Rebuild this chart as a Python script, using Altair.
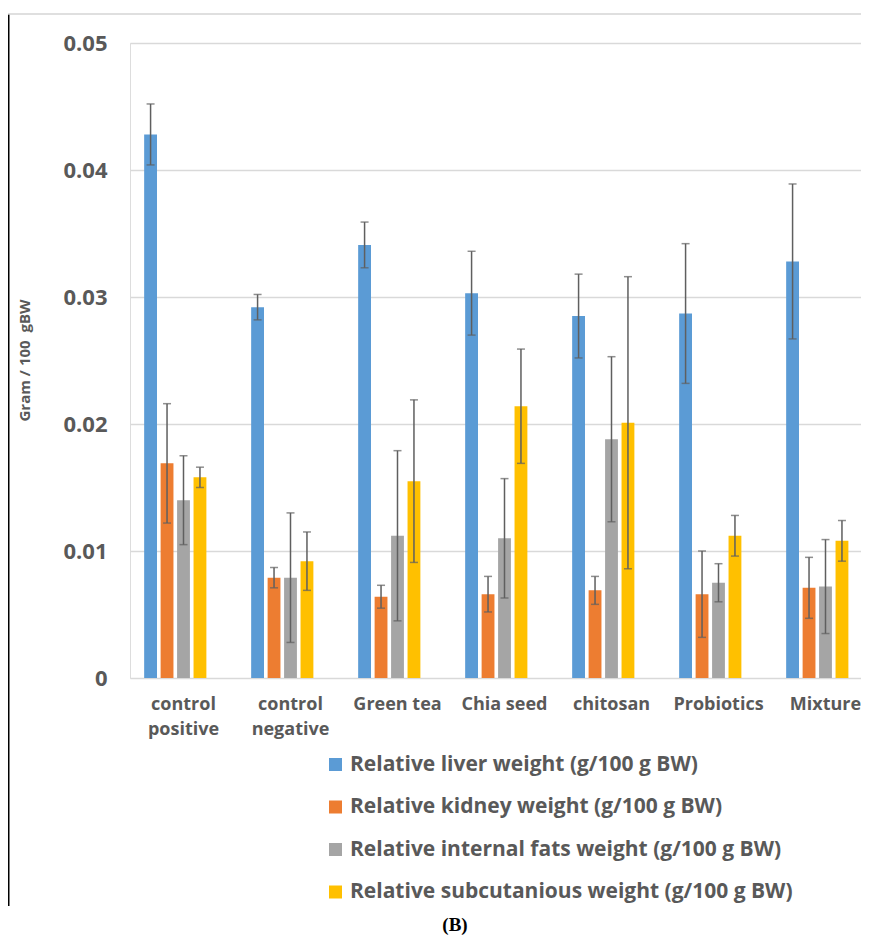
import altair as alt
import pandas as pd

categories = ["control\npositive", "control\nnegative", "Green tea", "Chia seed",
              "chitosan", "Probiotics", "Mixture"]
series = [
    "Relative liver weight (g/100 g BW)",
    "Relative kidney weight (g/100 g BW)",
    "Relative internal fats weight (g/100 g BW)",
    "Relative subcutanious weight (g/100 g BW)",
]
colors = ["#5B9BD5", "#ED7D31", "#A5A5A5", "#FFC000"]

liver = [0.0428, 0.0292, 0.0341, 0.0303, 0.0285, 0.0287, 0.0328]
liver_err = [0.0024, 0.0010, 0.0018, 0.0033, 0.0033, 0.0055, 0.0061]
kidney = [0.0169, 0.0079, 0.0064, 0.0066, 0.0069, 0.0066, 0.0071]
kidney_err = [0.0047, 0.0008, 0.0009, 0.0014, 0.0011, 0.0034, 0.0024]
fats = [0.0140, 0.0079, 0.0112, 0.0110, 0.0188, 0.0075, 0.0072]
fats_err = [0.0035, 0.0051, 0.0067, 0.0047, 0.0065, 0.0015, 0.0037]
subcut = [0.0158, 0.0092, 0.0155, 0.0214, 0.0201, 0.0112, 0.0108]
subcut_err = [0.0008, 0.0023, 0.0064, 0.0045, 0.0115, 0.0016, 0.0016]

y_ticks = [0, 0.01, 0.02, 0.03, 0.04, 0.05]

rows = []
for name, vals, errs in zip(series, [liver, kidney, fats, subcut],
                            [liver_err, kidney_err, fats_err, subcut_err]):
    for c, v, e in zip(categories, vals, errs):
        rows.append({"group": c, "series": name, "value": v, "lo": v - e, "hi": v + e})
df = pd.DataFrame(rows)

TXT = "#595959"
FONT = "Open Sans"

x_enc = alt.X(
    "group:N", sort=categories,
    scale=alt.Scale(range=[0, 749], paddingInner=0, paddingOuter=0),
    axis=alt.Axis(title=None, labelExpr="split(datum.label, '\\n')", labelAngle=0,
                  labelFont=FONT, labelFontSize=18, labelFontWeight="bold",
                  labelColor=TXT, labelPadding=17, labelLineHeight=25,
                  labelBaseline="top", labelLimit=0, labelOverlap=False,
                  ticks=False, domain=False, grid=False),
)
xoff = alt.XOffset("series:N", scale=alt.Scale(domain=series + [" "],
                                                 paddingInner=0.22, paddingOuter=0.86))
y_enc = alt.Y(
    "value:Q", scale=alt.Scale(domain=[0, 0.05], nice=False),
    axis=alt.Axis(values=y_ticks,
                  labelExpr="datum.value == 0 ? '0' : format(datum.value, '.2f')",
                  labelFont=FONT, labelFontSize=22, labelFontWeight="bold",
                  labelColor=TXT, labelPadding=23, ticks=False, domain=False,
                  gridColor="#d9d9d9", gridWidth=1.3,
                  title="Gram / 100 \u00a0gBW", titleFont=FONT, titleFontSize=15,
                  titleFontWeight="bold", titleColor=TXT, titleX=-113, titleY=317,
                  titleAlign="center", titleBaseline="top"),
)

base = alt.Chart(df)
bars = base.mark_bar().encode(
    x=x_enc, xOffset=xoff, y=y_enc,
    color=alt.Color("series:N", scale=alt.Scale(domain=series, range=colors),
                    legend=alt.Legend(title=None, orient="none", legendX=195, legendY=711,
                                      symbolType="square", symbolSize=169,
                                      symbolStrokeWidth=0, labelFont=FONT,
                                      labelFontSize=21, labelFontWeight="bold",
                                      labelColor=TXT, rowPadding=20.5, labelOffset=4,
                                      padding=0, labelLimit=0)),
)
err = base.mark_rule(color="#5f5f5f", strokeWidth=1.5).encode(
    x=x_enc, xOffset=xoff, y="lo:Q", y2="hi:Q")
cap_lo = base.mark_tick(color="#5f5f5f", thickness=1.5, size=8).encode(
    x=x_enc, xOffset=xoff, y="lo:Q")
cap_hi = base.mark_tick(color="#5f5f5f", thickness=1.5, size=8).encode(
    x=x_enc, xOffset=xoff, y="hi:Q")

one = pd.DataFrame({"a": [0]})
frame_left = alt.Chart(one).mark_rule(color="#000000", strokeWidth=1.5).encode(
    x=alt.value(-121.25), y=alt.value(-29), y2=alt.value(863))
frame_top = alt.Chart(one).mark_rule(color="#d4d4d4", strokeWidth=1.5).encode(
    x=alt.value(-122), x2=alt.value(739), y=alt.value(-29))
caption = alt.Chart(one).mark_text(font="Liberation Serif", fontSize=19, fontWeight="bold",
                                   color="#000000", align="center", baseline="middle").encode(
    x=alt.value(325), y=alt.value(882), text=alt.value("(B)"))

chart = alt.layer(bars, err, cap_lo, cap_hi, frame_left, frame_top, caption).properties(
    width=731, height=635,
    autosize=alt.AutoSizeParams(type="none"),
    padding={"left": 122, "top": 35, "right": 0, "bottom": 259},
).configure_view(stroke=None).configure(background="white")

chart.save("out.html", embed_options={"renderer": "svg", "actions": False})
